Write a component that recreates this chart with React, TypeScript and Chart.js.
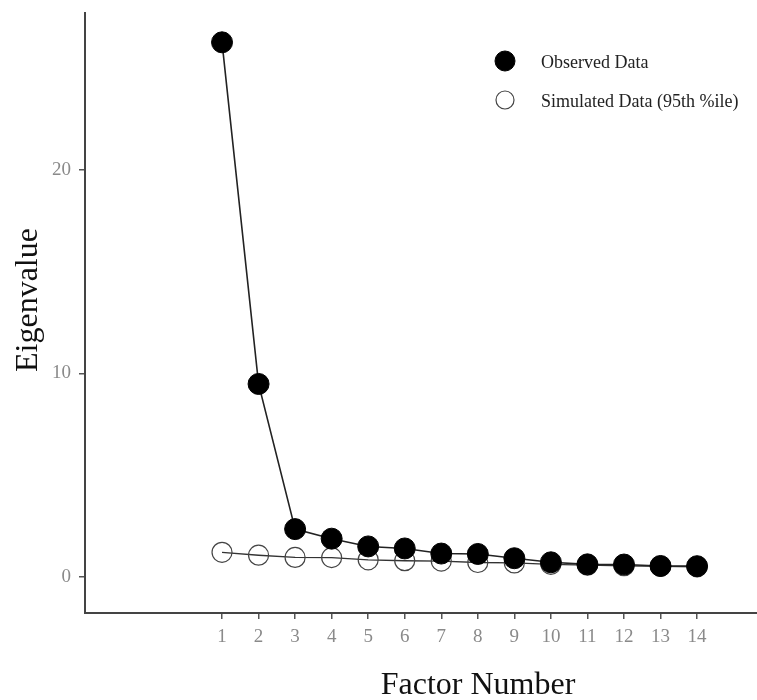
import React, { useEffect, useRef } from "react";
import { Chart, registerables } from "chart.js";

Chart.register(...registerables);

const factors = [1, 2, 3, 4, 5, 6, 7, 8, 9, 10, 11, 12, 13, 14];
const observed = [26.26, 9.48, 2.35, 1.88, 1.5, 1.4, 1.15, 1.13, 0.92, 0.72, 0.62, 0.61, 0.54, 0.53];
const simulated = [1.21, 1.07, 0.96, 0.95, 0.84, 0.8, 0.78, 0.71, 0.69, 0.62, 0.58, 0.55, 0.52, 0.5];
const yTickValues = [0, 10, 20];
const xTickValues = factors;
const seriesNames = ["Observed Data", "Simulated Data (95th %ile)"];
const xTitle = "Factor Number";
const yTitle = "Eigenvalue";

const SERIF = "'Liberation Serif', 'Times New Roman', serif";

const overlayPlugin = {
  id: "overlay",
  afterDraw(chart: any) {
    const ctx = chart.ctx as CanvasRenderingContext2D;
    ctx.save();
    // axis titles
    ctx.fillStyle = "#111";
    ctx.font = `32px ${SERIF}`;
    ctx.textAlign = "center";
    ctx.textBaseline = "alphabetic";
    ctx.fillText(xTitle, 478, 694);
    ctx.save();
    ctx.translate(37, 300);
    ctx.rotate(-Math.PI / 2);
    ctx.fillText(yTitle, 0, 0);
    ctx.restore();

    // legend
    const items = [
      { y: 61, fill: "#000", stroke: "#000", r: 10, lw: 1 },
      { y: 100, fill: "rgba(0,0,0,0)", stroke: "#444", r: 9, lw: 1.2 },
    ];
    items.forEach((it, i) => {
      ctx.beginPath();
      ctx.arc(505, it.y, it.r, 0, Math.PI * 2);
      ctx.fillStyle = it.fill;
      ctx.fill();
      ctx.lineWidth = it.lw;
      ctx.strokeStyle = it.stroke;
      ctx.stroke();
      ctx.fillStyle = "#222";
      ctx.font = `18px ${SERIF}`;
      ctx.textAlign = "left";
      ctx.textBaseline = "middle";
      ctx.fillText(seriesNames[i], 541, it.y + 2);
    });
    ctx.restore();
  },
};

export default function App() {
  const ref = useRef<HTMLCanvasElement | null>(null);

  useEffect(() => {
    if (!ref.current) return;
    const chart = new Chart(ref.current, {
      type: "line",
      data: {
        datasets: [
          {
            label: seriesNames[0],
            data: factors.map((f, i) => ({ x: f, y: observed[i] })),
            borderColor: "#222",
            borderWidth: 1.6,
            backgroundColor: "#000",
            pointBackgroundColor: "#000",
            pointBorderColor: "#000",
            pointBorderWidth: 1,
            pointRadius: 10.5,
            pointHoverRadius: 10.5,
            tension: 0,
            order: 0,
          },
          {
            label: seriesNames[1],
            data: factors.map((f, i) => ({ x: f, y: simulated[i] })),
            borderColor: "#333",
            borderWidth: 1.4,
            backgroundColor: "rgba(0,0,0,0)",
            pointBackgroundColor: "rgba(0,0,0,0)",
            pointBorderColor: "#444",
            pointBorderWidth: 1.2,
            pointRadius: 10,
            pointHoverRadius: 10,
            tension: 0,
            order: 1,
          },
        ],
      },
      options: {
        animation: false,
        responsive: false,
        layout: { autoPadding: false, padding: { top: 13, left: 0, right: 0, bottom: 0 } },
        plugins: {
          legend: { display: false },
          tooltip: { enabled: false },
        },
        scales: {
          x: {
            type: "linear",
            min: -2.75,
            max: 15.64,
            afterBuildTicks: (scale: any) => {
              scale.ticks = xTickValues.map((v) => ({ value: v }));
            },
            afterFit: (scale: any) => {
              scale.height = 87;
              scale.paddingLeft = 0;
              scale.paddingRight = 0;
            },
            ticks: {
              autoSkip: false,
              maxRotation: 0,
              padding: 7,
              color: "#8a8a8a",
              font: { family: SERIF, size: 19 },
              callback: (v: any) => String(v),
            },
            grid: {
              drawOnChartArea: false,
              drawTicks: true,
              tickLength: 6,
              color: "#555",
              lineWidth: 1.5,
            },
            border: { display: true, color: "#444", width: 2 },
          },
          y: {
            type: "linear",
            min: -1.77,
            max: 27.7,
            afterBuildTicks: (scale: any) => {
              scale.ticks = yTickValues.map((v) => ({ value: v }));
            },
            afterFit: (scale: any) => {
              scale.width = 85;
              scale.paddingTop = 0;
              scale.paddingBottom = 0;
            },
            ticks: {
              padding: 8,
              color: "#8a8a8a",
              font: { family: SERIF, size: 19 },
              callback: (v: any) => String(v),
            },
            grid: {
              drawOnChartArea: false,
              drawTicks: true,
              tickLength: 6,
              color: "#555",
              lineWidth: 1.5,
            },
            border: { display: true, color: "#444", width: 2 },
          },
        },
      },
      plugins: [overlayPlugin],
    } as any);
    return () => chart.destroy();
  }, []);

  return (
    <div style={{ position: "absolute", left: 0, top: 0, width: 757, height: 700, background: "#fff" }}>
      <canvas ref={ref} width={757} height={700} />
    </div>
  );
}
